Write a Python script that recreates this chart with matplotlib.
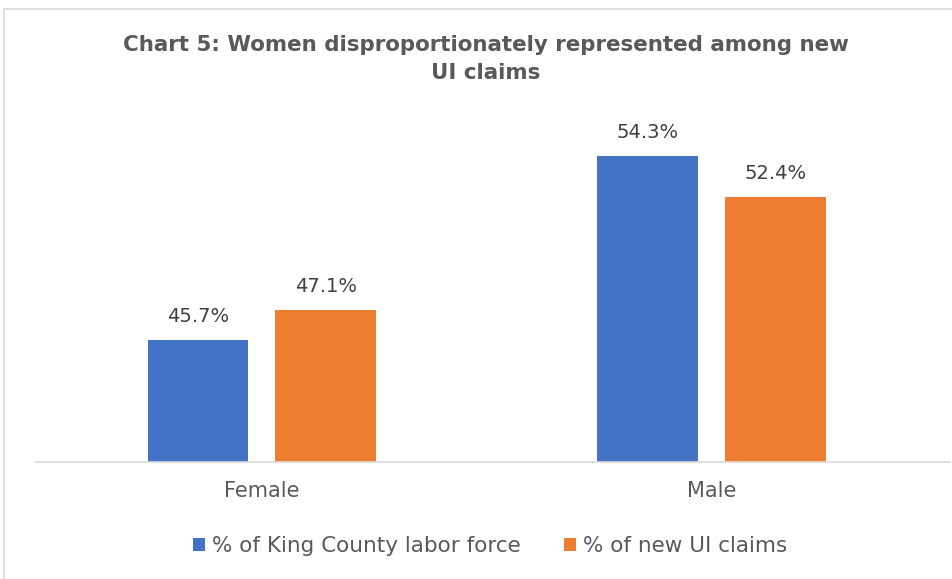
import matplotlib
matplotlib.use("Agg")
import matplotlib.pyplot as plt
import numpy as np
from matplotlib.patches import Rectangle

#Chart data
categories = ["Female", "Male"]
labor_force = [45.7, 54.3]
new_claims = [47.1, 52.4]
series_names = ["% of King County labor force", "% of new UI claims"]

blue = "#4472C4"
orange = "#ED7D31"
text_gray = "#595959"

fig = plt.figure(figsize=(9.52, 5.79), dpi=100)
ax = fig.add_axes([0.0378, 0.202, 0.960, 0.591])

x = np.arange(len(categories))
width = 0.224
offset = 0.142

bars1 = ax.bar(x - offset, labor_force, width, bottom=0, color=blue, label=series_names[0])
bars2 = ax.bar(x + offset, new_claims, width, bottom=0, color=orange, label=series_names[1])

ax.set_ylim(40, 56)
ax.set_xlim(-0.502, 1.53)

#Value labels above bars
for bars, vals in [(bars1, labor_force), (bars2, new_claims)]:
    for b, v in zip(bars, vals):
        ax.text(b.get_x() + b.get_width() / 2, v + 0.65, f"{v}%", ha="center", va="bottom",
                fontsize=14, color="#404040")

ax.set_yticks([])
ax.set_xticks(x)
ax.set_xticklabels(categories, fontsize=15, color=text_gray)
ax.tick_params(axis="x", length=0, pad=14)
for s in ["top", "right", "left"]:
    ax.spines[s].set_visible(False)
ax.spines["bottom"].set_color("#D9D9D9")
ax.spines["bottom"].set_linewidth(1.2)

#Title
fig.text(0.510, 0.898, "Chart 5: Women disproportionately represented among new\nUI claims",
         ha="center", va="center", fontsize=15.4, fontweight="bold", color=text_gray,
         linespacing=1.5)

#Legend
fig.legend(handles=[bars1, bars2], labels=series_names, loc="center", bbox_to_anchor=(0.515, 0.057),
           ncol=2, frameon=False, fontsize=15.5, handlelength=0.55, handleheight=0.55,
           handletextpad=0.35, columnspacing=2.0, labelcolor=text_gray)

#Chart border (left and top edges visible)
fig.patches.append(Rectangle((4 / 952, -0.1), 1.2, 1.1 - 9 / 579, transform=fig.transFigure,
                             fill=False, edgecolor="#D9D9D9", linewidth=1.2))

fig.savefig("out.png", dpi=100)
